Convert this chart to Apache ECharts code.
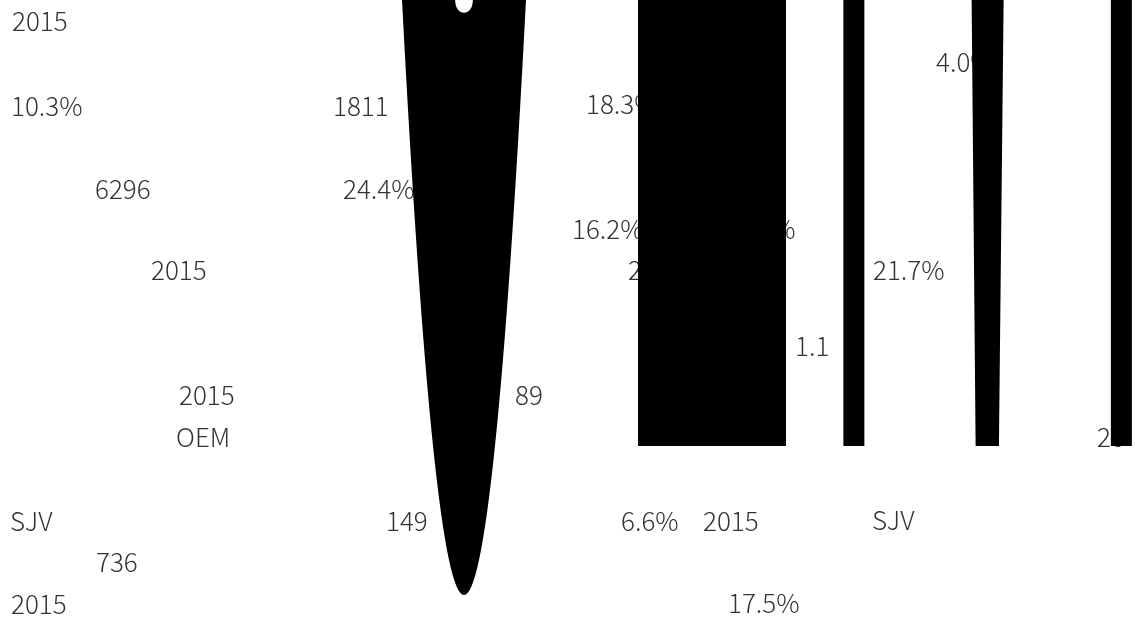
<!DOCTYPE html>
<html><head><meta charset="utf-8">
<script src="https://cdn.jsdelivr.net/npm/echarts@6/dist/echarts.min.js"></script>
<style>html,body{margin:0;padding:0;background:#fff}#c{width:1135px;height:621px}</style>
</head><body><div id="c"></div>
<script>
// ---- data ----
const labelTexts = ['2015','10.3%','1811','18.3%','4.0%','6296','24.4%','16.2%','12.4%','2015','21.7%','1.1','2015','89','2015','OEM','SJV','149','6.6%','2015','SJV','736','2015','17.5%','20'];
const dropCategories = ['drop'];
const dropValues = [100];
const wideCategories = ['bar1'];
const wideValues = [100];
const narrowCategories = ['bar2','bar3','bar4'];
const narrowValues = [100, '-', 100];
const taperValues = ['-', 100, '-'];

// ---- layout (pixel placement of the text annotations) ----
const labelPos = [[12,21],[11,106],[333,106],[586,104],[936,62],[95,189],[343,189],[572,229],[724,229],[628,270],[873,270],[795,346],[151,270],[515,395],[179,395],[176,437],[10,521],[386,521],[621,521],[703,521],[872,520],[96,562],[11,604],[728,603],[1097,437]];

const dropPath = 'path://M0,0 L54,0 C54,17 72,17 72,0 L126,0 Q94.4,595 63,595 Q31.6,595 0,0 Z';
const taperPath = 'path://M0,0 L32,0 L27.3,446 L4,446 Z';

const chart = echarts.init(document.getElementById('c'), null, {renderer:'canvas'});
const textFont = "'Noto Sans CJK SC', 'Noto Sans', sans-serif";
const option = {
  animation: false,
  backgroundColor: '#fff',
  graphic: labelTexts.map((t, i) => ({
    type: 'text', z: 0, silent: true,
    x: labelPos[i][0], y: labelPos[i][1],
    style: {text: t, fill: '#333', font: "300 26px " + textFont, textVerticalAlign: 'middle', verticalAlign: 'middle'}
  })),
  grid: [
    {left: 402, width: 124, top: 0, height: 595, outerBoundsMode: 'none'},
    {left: 638, width: 148, top: 0, height: 446, outerBoundsMode: 'none'},
    {left: 787, width: 401.25, top: 0, height: 446, outerBoundsMode: 'none'}
  ],
  xAxis: [
    {type: 'category', gridIndex: 0, data: dropCategories, show: false},
    {type: 'category', gridIndex: 1, data: wideCategories, show: false},
    {type: 'category', gridIndex: 2, data: narrowCategories, show: false}
  ],
  yAxis: [
    {type: 'value', gridIndex: 0, min: 0, max: 100, show: false},
    {type: 'value', gridIndex: 1, min: 0, max: 100, show: false},
    {type: 'value', gridIndex: 2, min: 0, max: 100, show: false}
  ],
  series: [
    {type: 'pictorialBar', xAxisIndex: 0, yAxisIndex: 0, z: 5, data: dropValues,
     symbol: dropPath, symbolSize: [124, '100%'], symbolPosition: 'start', itemStyle: {color: '#000'}},
    {type: 'bar', xAxisIndex: 1, yAxisIndex: 1, z: 5, data: wideValues, barWidth: '100%', itemStyle: {color: '#000'}},
    {type: 'bar', xAxisIndex: 2, yAxisIndex: 2, z: 5, data: narrowValues, barWidth: 21, barGap: '-100%', itemStyle: {color: '#000'}},
    {type: 'pictorialBar', xAxisIndex: 2, yAxisIndex: 2, z: 5, data: taperValues,
     symbol: taperPath, symbolSize: [32, '100%'], symbolPosition: 'start', itemStyle: {color: '#000'}}
  ]
};
chart.setOption(option);
</script></body></html>
